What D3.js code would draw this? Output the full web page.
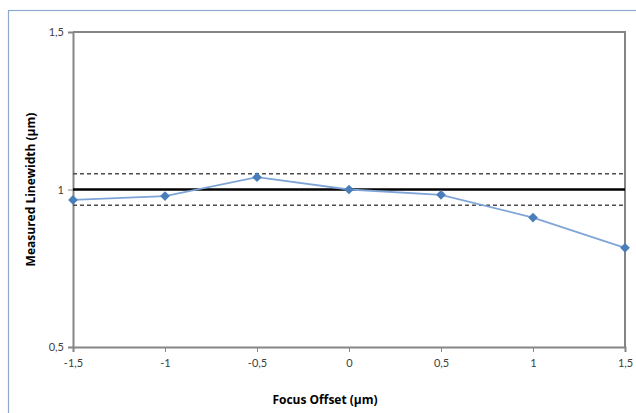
<!DOCTYPE html>
<html><head><meta charset="utf-8">
<script src="https://cdn.jsdelivr.net/npm/d3@7"></script>
<style>body{margin:0;background:#fff}svg{display:block}</style>
</head><body>
<script>
const focusOffsets = [-1.5, -1, -0.5, 0, 0.5, 1, 1.5];
const linewidths = [0.967, 0.979, 1.039, 1.000, 0.983, 0.911, 0.815];
const targetValue = 1.0;
const upperLimit = 1.05;
const lowerLimit = 0.95;
const xTicks = [-1.5, -1, -0.5, 0, 0.5, 1, 1.5];
const yTicks = [0.5, 1, 1.5];
const xTitle = "Focus Offset (µm)";
const yTitle = "Measured Linewidth (µm)";

const W = 636, H = 413;
const svg = d3.select("body").append("svg").attr("width", W).attr("height", H);
const m = {left: 73, right: 625, top: 32, bottom: 347};
const x = d3.scaleLinear().domain([-1.5, 1.5]).range([m.left, m.right]);
const y = d3.scaleLinear().domain([0.5, 1.5]).range([m.bottom, m.top]);
const fmt = d => String(d).replace(".", ",");
const font = "Lato, 'Open Sans', sans-serif";
const tfont = "'Open Sans', sans-serif";

// outer chart frame
svg.append("rect").attr("x", 8.5).attr("y", 10.5).attr("width", 640).attr("height", 420)
  .attr("fill", "none").attr("stroke", "#8eaacb").attr("stroke-width", 1.2);

// plot border (top/right)
svg.append("path").attr("d", `M${m.left},${m.top}H${m.right}V${m.bottom}`)
  .attr("fill", "none").attr("stroke", "#858585").attr("stroke-width", 2);

// axes
const xAxis = d3.axisBottom(x).tickValues(xTicks).tickSize(5).tickFormat(fmt);
const gx = svg.append("g").attr("transform", `translate(0,${m.bottom})`).call(xAxis);
gx.select(".domain").attr("stroke", "#868686").attr("stroke-width", 2);
gx.selectAll(".tick line").attr("stroke", "#868686");
gx.selectAll(".tick text").attr("font-family", font).attr("font-size", 11).attr("fill", "#404040").attr("dy", "1.05em");

const yAxis = d3.axisLeft(y).tickValues(yTicks).tickSize(5).tickFormat(fmt);
const gy = svg.append("g").attr("transform", `translate(${m.left},0)`).call(yAxis);
gy.select(".domain").attr("stroke", "#868686").attr("stroke-width", 2);
gy.selectAll(".tick line").attr("stroke", "#868686");
gy.selectAll(".tick text").attr("font-family", font).attr("font-size", 11).attr("fill", "#404040").attr("x", -9);

// reference lines
const hline = (v, dash, col, sw) => svg.append("line")
  .attr("x1", m.left).attr("x2", m.right).attr("y1", y(v)).attr("y2", y(v))
  .attr("stroke", col).attr("stroke-width", sw).attr("stroke-dasharray", dash);
hline(upperLimit, "4,3", "#4d4d4d", 1.6);
hline(lowerLimit, "4,3", "#4d4d4d", 1.6);
hline(targetValue, null, "#000", 2.5);

// series
const pts = focusOffsets.map((f, i) => [f, linewidths[i]]);
svg.append("path").datum(pts)
  .attr("d", d3.line().x(d => x(d[0])).y(d => y(d[1])))
  .attr("fill", "none").attr("stroke", "#7fa5d6").attr("stroke-width", 1.8);
svg.selectAll(".mk").data(pts).enter().append("path")
  .attr("transform", d => `translate(${x(d[0])},${y(d[1])})`)
  .attr("d", d3.symbol().type(d3.symbolDiamond2).size(60))
  .attr("fill", "#4a7ebb");

// titles
svg.append("text").attr("x", 325).attr("y", 404)
  .attr("text-anchor", "middle").attr("font-family", tfont).attr("font-weight", "bold")
  .attr("font-size", 12).attr("fill", "#000").text(xTitle);
svg.append("text").attr("transform", `translate(35,${(m.top + m.bottom) / 2}) rotate(-90)`)
  .attr("text-anchor", "middle").attr("font-family", tfont).attr("font-weight", "bold")
  .attr("font-size", 12).attr("fill", "#000").text(yTitle);
</script>
</body></html>
